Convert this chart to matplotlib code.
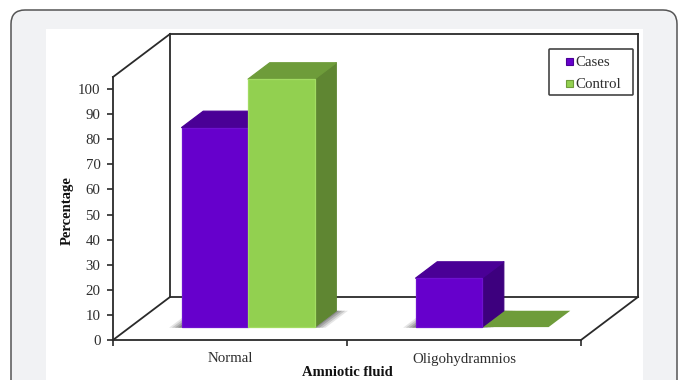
import matplotlib
matplotlib.use('Agg')
import matplotlib.pyplot as plt
from matplotlib.patches import FancyBboxPatch, Polygon, Rectangle

plt.rcParams['font.family'] = ['Liberation Serif', 'DejaVu Serif']

categorias = ['Normal', 'Oligohydramnios']
series = ['Cases', 'Control']
cases = [79.5, 19.5]
control = [98.8, 0]
y_ticks = list(range(0, 101, 10))

ANCHO, ALTO = 683, 380
# frente, techo, lado, borde claro
COLORES = {
    'Cases': ('#6600cc', '#4a0096', '#3d007e', '#6f10d0'),
    'Control': ('#92d050', '#6e9c3a', '#5f8632', '#a2dc62'),
}
TEXTO = '#2e2e2e'

fig = plt.figure(figsize=(ANCHO / 100, ALTO / 100), dpi=100)

# tarjeta de fondo, en pixeles
fondo = fig.add_axes([0, 0, 1, 1])
fondo.set_xlim(0, ANCHO)
fondo.set_ylim(ALTO, 0)
fondo.axis('off')
fondo.add_patch(FancyBboxPatch((11, 10), 666, 420, boxstyle='round,pad=0,rounding_size=14',
                               fc='#f1f2f4', ec='#555555', lw=1.1))
fondo.add_patch(Rectangle((46, 29), 597, 360, fc='white', ec='none'))

# ejes del plano frontal
izq, der, abajo, arriba = 113, 581, 340, 77
ax = fig.add_axes([izq / ANCHO, 1 - abajo / ALTO, (der - izq) / ANCHO, (abajo - arriba) / ALTO])
ax.patch.set_alpha(0)
ax.set_xlim(0, 2)
y_max = (abajo - arriba) / 2.51
ax.set_ylim(0, y_max)

# profundidad de la caja: 57 px a la derecha, 43 px arriba
PX_X = (der - izq) / 2
PROF_X = 57 / PX_X
PROF_Y = 43 / 2.51


def proyectar(x, v, d):
    return x + d * PROF_X, v + d * PROF_Y


def cara(puntos, color, z, alpha=1.0, borde='none'):
    ax.add_patch(Polygon([proyectar(*p) for p in puntos], closed=True, fc=color, ec=borde,
                         lw=0.9, joinstyle='round', alpha=alpha, zorder=z, clip_on=False))


def linea(p1, p2, z=2):
    a = proyectar(*p1)
    b = proyectar(*p2)
    ax.plot([a[0], b[0]], [a[1], b[1]], color='#2a2a2a', lw=1.3, zorder=z, clip_on=False)


# paredes y piso
linea((0, y_max, 0), (0, y_max, 1))
linea((0, y_max, 1), (2, y_max, 1))
linea((0, 0, 1), (0, y_max, 1))
linea((2, 0, 1), (2, y_max, 1))
linea((0, 0, 1), (2, 0, 1))
linea((0, 0, 0), (0, 0, 1))
linea((2, 0, 0), (2, 0, 1))

ANCHO_BARRA = 66.5 / PX_X
CORRIDA = 1 / PX_X
D0, D1 = 0.3, 0.68


def sombra(x0, x1):
    # sombra suave sobre el piso, por capas
    for extra, a in [(0.05, 0.14), (0.038, 0.2), (0.025, 0.26), (0.012, 0.3)]:
        cara([(x0 - extra, 0, D0 - 0.015), (x1 + extra, 0, D0 - 0.015),
              (x1 + extra, 0, D1), (x0 - extra, 0, D1)], '#4a4a4a', 3, a)


def barra(x0, valor, colores, z):
    frente, techo, lado, claro = colores
    x1 = x0 + ANCHO_BARRA
    if valor > 0:
        cara([(x1, 0, D0), (x1, 0, D1), (x1, valor, D1), (x1, valor, D0)], lado, z, borde=lado)
        cara([(x0, valor, D0), (x1, valor, D0), (x1, valor, D1), (x0, valor, D1)], techo, z,
             borde=techo)
        cara([(x0, 0, D0), (x1, 0, D0), (x1, valor, D0), (x0, valor, D0)], frente, z + 0.1,
             borde=claro)
    else:
        cara([(x0, 0, D0), (x1, 0, D0), (x1, 0, D1), (x0, 0, D1)], techo, z)


for i in range(len(categorias)):
    x_cases = i + 0.5 - ANCHO_BARRA + CORRIDA
    hay_control = control[i] > 0
    sombra(x_cases, x_cases + (2 if hay_control else 1) * ANCHO_BARRA)
    barra(x_cases, cases[i], COLORES['Cases'], 5 if hay_control else 6)
    barra(x_cases + ANCHO_BARRA, control[i], COLORES['Control'], 6 if hay_control else 5)

# ejes y textos
for lado in ['top', 'right']:
    ax.spines[lado].set_visible(False)
for lado in ['left', 'bottom']:
    ax.spines[lado].set_color('#2a2a2a')
    ax.spines[lado].set_linewidth(1.3)
    ax.spines[lado].set_zorder(8)
ax.set_yticks(y_ticks)
ax.set_xticks([0, 1, 2])
ax.set_xticklabels([])
ax.set_xticks([0.5, 1.5], minor=True)
ax.set_xticklabels(categorias, minor=True)
ax.tick_params(axis='x', which='major', length=4, width=1.2, color='#2a2a2a')
ax.tick_params(axis='x', which='minor', length=0, pad=9, labelsize=10.7, labelcolor=TEXTO)
ax.tick_params(axis='y', length=4, width=1.2, color='#2a2a2a', pad=5, labelsize=10.7,
               labelcolor=TEXTO)

fondo.text(67, 211, 'Percentage', rotation=90, ha='center', va='center', fontsize=10.5,
           fontweight='bold', color='#111111')
fondo.text(347, 376, 'Amniotic fluid', ha='center', va='baseline', fontsize=10.5,
           fontweight='bold', color='#111111')

# leyenda
fondo.add_patch(FancyBboxPatch((549, 49), 84, 46, boxstyle='round,pad=0,rounding_size=1',
                               fc='white', ec='#444444', lw=1.2, zorder=10))
for nombre, y_fila in zip(series, [61, 83.5]):
    fondo.add_patch(Rectangle((565.5, y_fila - 3.5), 7, 7, fc=COLORES[nombre][0],
                              ec=COLORES[nombre][1], lw=0.8, zorder=11))
    fondo.text(575.5, y_fila + 1, nombre, ha='left', va='center', fontsize=10.7, color=TEXTO,
               zorder=11)

fig.savefig('out.png', dpi=100)
